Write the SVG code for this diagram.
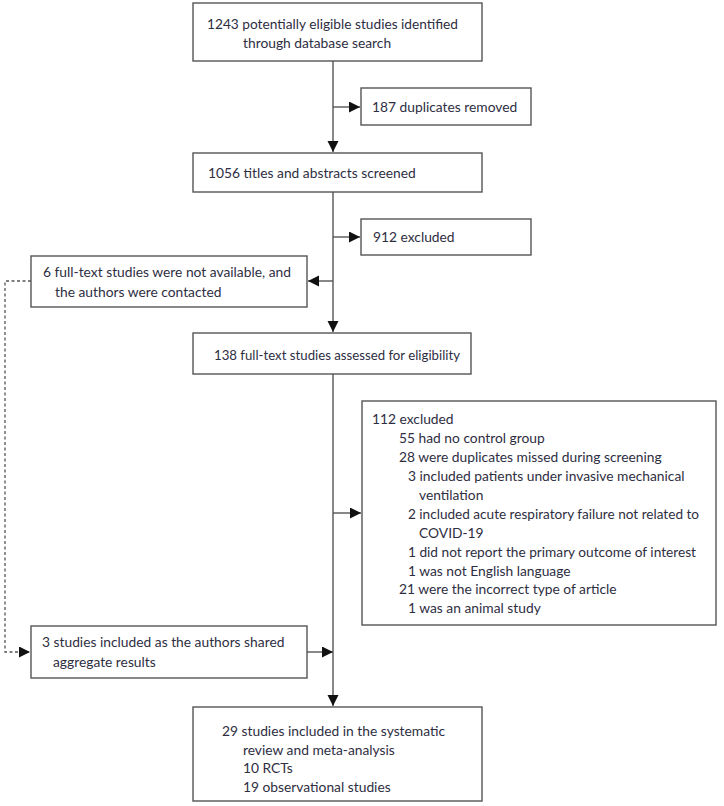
<svg xmlns="http://www.w3.org/2000/svg" width="724" height="806" viewBox="0 0 724 806">
<defs>
<style>
.box{fill:#fff;stroke:#555;stroke-width:1.4}
.t{font-family:Lato,"Liberation Sans",sans-serif;font-size:13.8px;fill:#2e2e42}
.ln{fill:none;stroke:#555;stroke-width:1.4}
.dash{fill:none;stroke:#555;stroke-width:1.3;stroke-dasharray:3 2.5}
</style>
<marker id="ah" markerUnits="userSpaceOnUse" markerWidth="13" markerHeight="13" refX="11" refY="5.5" orient="auto">
<path d="M0,0 L11,5.5 L0,11 Z" fill="#111"/>
</marker>
</defs>
<rect width="724" height="806" fill="#fff"/>
<g id="connectors">
<line class="ln" x1="333" y1="61" x2="333" y2="152" marker-end="url(#ah)"/>
<line class="ln" x1="333" y1="192" x2="333" y2="332" marker-end="url(#ah)"/>
<line class="ln" x1="333" y1="374" x2="333" y2="706" marker-end="url(#ah)"/>
<line class="ln" x1="333" y1="107" x2="360" y2="107" marker-end="url(#ah)"/>
<line class="ln" x1="333" y1="237" x2="360" y2="237" marker-end="url(#ah)"/>
<line class="ln" x1="333" y1="281" x2="308" y2="281" marker-end="url(#ah)"/>
<line class="ln" x1="333" y1="513" x2="361" y2="513" marker-end="url(#ah)"/>
<line class="ln" x1="307" y1="652" x2="333" y2="652" marker-end="url(#ah)"/>
<path class="dash" d="M31,281 H5 V652 H30" marker-end="url(#ah)"/>
</g>
<g id="n1">
<rect class="box" x="193" y="3" width="289" height="58"/>
<text class="t" x="207" y="28.5" textLength="251" lengthAdjust="spacingAndGlyphs">1243 potentially eligible studies identified</text>
<text class="t" x="243" y="47.5">through database search</text>
</g>
<g id="n2">
<rect class="box" x="361" y="88" width="170" height="37"/>
<text class="t" x="372" y="112">187 duplicates removed</text>
</g>
<g id="n3">
<rect class="box" x="193" y="153" width="289" height="39"/>
<text class="t" x="208" y="177.5">1056 titles and abstracts screened</text>
</g>
<g id="n4">
<rect class="box" x="361" y="219" width="170" height="36"/>
<text class="t" x="373" y="241.5">912 excluded</text>
</g>
<g id="n5">
<rect class="box" x="31" y="256" width="276" height="51"/>
<text class="t" x="43" y="276.5">6 full-text studies were not available, and</text>
<text class="t" x="55" y="296.5">the authors were contacted</text>
</g>
<g id="n6">
<rect class="box" x="193" y="333" width="278" height="41"/>
<text class="t" x="214" y="359.5" textLength="246" lengthAdjust="spacingAndGlyphs">138 full-text studies assessed for eligibility</text>
</g>
<g id="n7">
<rect class="box" x="362" y="401" width="354" height="224"/>
<text class="t" x="372" y="423.5">112 excluded</text>
<text class="t" x="399" y="442.5">55 had no control group</text>
<text class="t" x="399" y="461.5">28 were duplicates missed during screening</text>
<text class="t" x="408" y="480.5">3 included patients under invasive mechanical</text>
<text class="t" x="419" y="499.5">ventilation</text>
<text class="t" x="408" y="518.5" textLength="291" lengthAdjust="spacingAndGlyphs">2 included acute respiratory failure not related to</text>
<text class="t" x="419" y="537.5">COVID-19</text>
<text class="t" x="408" y="556.5" textLength="288" lengthAdjust="spacingAndGlyphs">1 did not report the primary outcome of interest</text>
<text class="t" x="408" y="575.5">1 was not English language</text>
<text class="t" x="399" y="594">21 were the incorrect type of article</text>
<text class="t" x="408" y="613">1 was an animal study</text>
</g>
<g id="n8">
<rect class="box" x="31" y="626" width="276" height="52"/>
<text class="t" x="42" y="646.5">3 studies included as the authors shared</text>
<text class="t" x="53" y="666.5">aggregate results</text>
</g>
<g id="n9">
<rect class="box" x="193" y="707" width="289" height="94"/>
<text class="t" x="222" y="735.5">29 studies included in the systematic</text>
<text class="t" x="243" y="754.5">review and meta-analysis</text>
<text class="t" x="243" y="773">10 RCTs</text>
<text class="t" x="243" y="791.5">19 observational studies</text>
</g>
</svg>
